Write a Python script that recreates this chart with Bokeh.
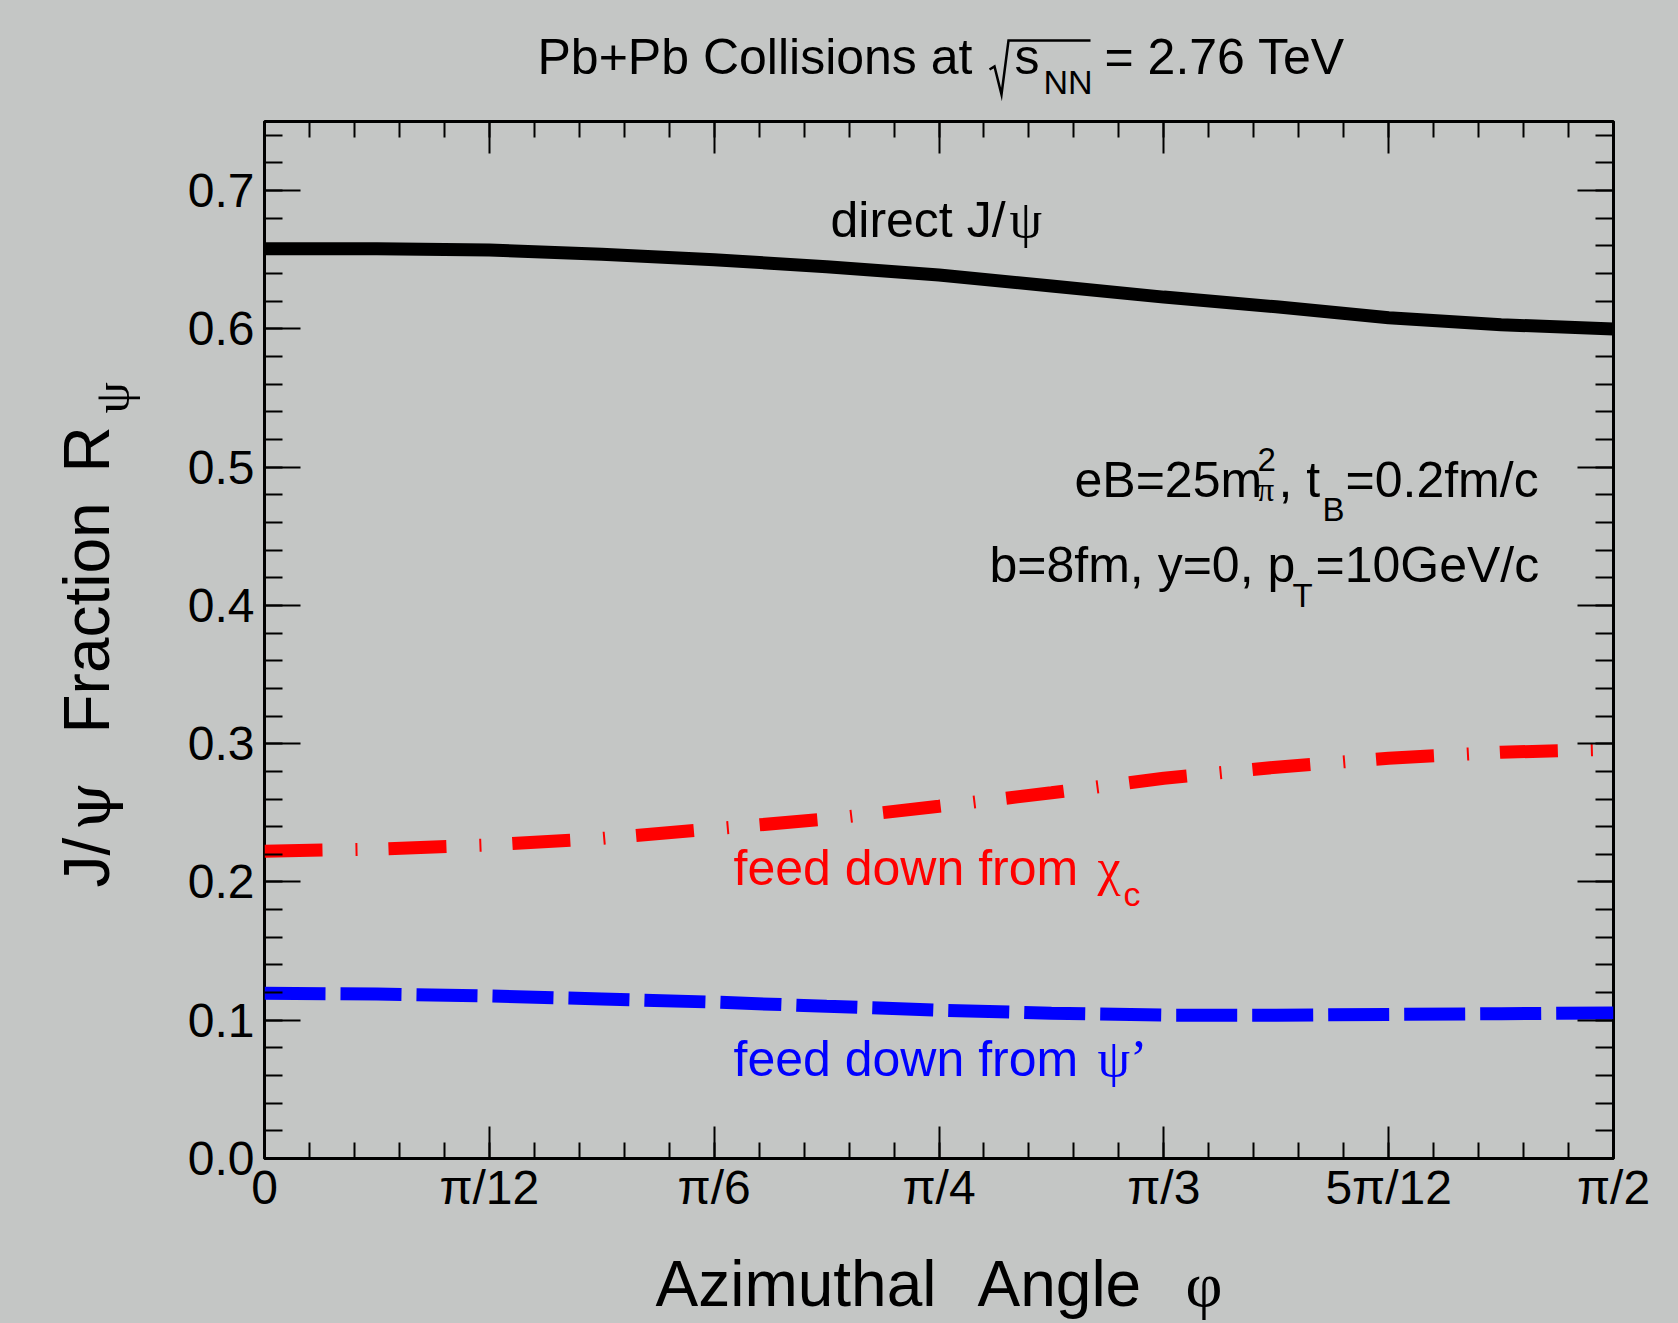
import math
from bokeh.plotting import figure
from bokeh.layouts import column, row
from bokeh.core.properties import value
from bokeh.models import (FixedTicker, PrintfTickFormatter, LinearAxis,
                          Range1d, ColumnDataSource)
from bokeh.embed import file_html
from bokeh.resources import INLINE

PI = math.pi

# ---------------- data ----------------
phi = [k * PI / 24 for k in range(13)]          # azimuthal angle, 0 .. pi/2
direct_jpsi = [0.658, 0.658, 0.657, 0.654, 0.650, 0.645, 0.639,
               0.631, 0.623, 0.616, 0.608, 0.603, 0.600]
feed_chic = [0.2223, 0.2238, 0.2268, 0.2315, 0.2385, 0.2455, 0.2548,
             0.2645, 0.2750, 0.2830, 0.2895, 0.2938, 0.2960]
feed_psip = [0.1195, 0.1189, 0.1175, 0.1154, 0.1131, 0.1101, 0.1073,
             0.1051, 0.1037, 0.1036, 0.1042, 0.1047, 0.1053]

x_ticks = [k * PI / 12 for k in range(7)]
x_tick_labels = ["0", "π/12", "π/6", "π/4", "π/3", "5π/12", "π/2"]
x_minor = [k * PI / 60 for k in range(31)]
y_ticks = [round(0.1 * k, 1) for k in range(8)]
y_minor = [round(0.02 * k, 2) for k in range(38)]

XMAX, YMAX = PI / 2, 0.75
BG = "#c4c6c5"
SANS = "Liberation Sans"
SERIF = "Liberation Serif"

# page geometry (pixels)
PAGE_W, PAGE_H = 1678, 1323
TOP_H, BOT_H, LEFT_W = 110, 95, 150
MID_H = PAGE_H - TOP_H - BOT_H
FL, FR, FT, FB = 264, 1613, 121, 1158        # plot frame in page pixels
BORDER_T = FT - TOP_H
BORDER_B = TOP_H + MID_H - FB

p = figure(width=PAGE_W - LEFT_W, height=MID_H, title=None, toolbar_location=None,
           output_backend="svg", x_range=Range1d(0, XMAX), y_range=Range1d(0, YMAX),
           min_border_left=FL - LEFT_W, min_border_right=PAGE_W - FR,
           min_border_top=BORDER_T, min_border_bottom=BORDER_B,
           x_axis_type=None, y_axis_type=None, styles={"background-color": BG})
p.background_fill_color = BG
p.border_fill_color = BG
p.outline_line_color = "black"
p.outline_line_width = 3


def ticks_style(ax, major, minor):
    ax.axis_line_color = None
    ax.major_tick_in = major
    ax.major_tick_out = 0
    ax.minor_tick_in = minor
    ax.minor_tick_out = 0
    ax.major_tick_line_width = 2
    ax.minor_tick_line_width = 2
    ax.major_tick_line_color = "black"
    ax.minor_tick_line_color = "black"
    ax.major_label_standoff = 0


# bottom and left axes with labels
xb = LinearAxis(ticker=FixedTicker(ticks=x_ticks, minor_ticks=x_minor))
xb.major_label_overrides = {v: s for v, s in zip(x_ticks, x_tick_labels)}
ticks_style(xb, 32, 16)
xb.major_label_text_font = SANS
xb.major_label_text_font_size = "48px"
xb.major_label_text_color = "black"
xb.major_label_standoff = 2
p.add_layout(xb, "below")

yl = LinearAxis(ticker=FixedTicker(ticks=y_ticks, minor_ticks=y_minor),
                formatter=PrintfTickFormatter(format="%.1f"))
ticks_style(yl, 36, 18)
yl.major_label_text_font = SANS
yl.major_label_text_font_size = "48px"
yl.major_label_text_color = "black"
yl.major_label_standoff = 10
p.add_layout(yl, "left")

# mirrored tick marks on top and right (no labels: no major ticks there)
for side, major, minor, big, small in (("above", x_ticks, x_minor, 32, 16),
                                        ("right", y_ticks, y_minor, 36, 18)):
    a_big = LinearAxis(ticker=FixedTicker(ticks=[], minor_ticks=major))
    ticks_style(a_big, 0, big)
    p.add_layout(a_big, side)
    a_small = LinearAxis(ticker=FixedTicker(ticks=[], minor_ticks=minor))
    ticks_style(a_small, 0, small)
    p.add_layout(a_small, side)

src = ColumnDataSource(dict(phi=phi, direct=direct_jpsi, chic=feed_chic, psip=feed_psip))
p.line("phi", "direct", source=src, line_color="black", line_width=13)
p.line("phi", "chic", source=src, line_color="#ff0000", line_width=13,
       line_dash="58 33 2 31")
p.line("phi", "psip", source=src, line_color="#0000ff", line_width=13,
       line_dash="61 15")


# ---------------- helper strips for the texts outside the frame ----------------
# their data coordinates are page pixels: x = px, y = -py
def strip(w, h, y_top, y_bot, bt=0, bb=0):
    f = figure(width=w, height=h, title=None, toolbar_location=None,
               output_backend="svg", x_range=Range1d(0, w),
               y_range=Range1d(-y_bot, -y_top), min_border_left=0,
               min_border_right=0, min_border_top=bt, min_border_bottom=bb,
               x_axis_type=None, y_axis_type=None, styles={"background-color": BG})
    f.background_fill_color = BG
    f.border_fill_color = BG
    f.outline_line_color = None
    return f


top = strip(PAGE_W, TOP_H, 0, TOP_H)
left = strip(LEFT_W, MID_H, FT, FB, BORDER_T, BORDER_B)
bottom = strip(PAGE_W, BOT_H, PAGE_H - BOT_H, PAGE_H)


def shift(size):
    # measured offset between the requested and the drawn baseline
    return 0.33 * size + 2.0


def put(fig, s, x, y, size, color="black", font=SANS, angle=0.0):
    fig.text(x=[x], y=[y], text=[s], text_font=value(font),
             text_font_size=value(f"{size}px"), text_color=color,
             text_align="left", text_baseline="alphabetic", angle=angle)


def t_page(fig, s, px, py, size, angle=0.0, **kw):
    d = shift(size)
    px2 = px - d * math.sin(angle)
    py2 = py - d * math.cos(angle)
    put(fig, s, px2, -py2, size, angle=angle, **kw)


def t_main(s, px, py, size, **kw):
    py2 = py - shift(size)
    put(p, s, (px - FL) / (FR - FL) * XMAX, (FB - py2) / (FB - FT) * YMAX, size, **kw)


# title
t_page(top, "Pb+Pb Collisions at", 537, 75, 50)
t_page(top, "s", 1014, 75, 50)
t_page(top, "NN", 1043, 95, 34)
t_page(top, "= 2.76 TeV", 1104, 75, 50)
# radical sign of the square root
top.line(x=[989, 994, 1001, 1008, 1090], y=[-69, -66, -94, -40, -40],
         line_width=2.5, line_color="black", line_join="miter")

# axis titles
t_page(bottom, "Azimuthal", 655, 1307, 64)
t_page(bottom, "Angle", 977, 1307, 64)
t_page(bottom, "φ", 1185, 1307, 64, font=SERIF)
t_page(left, "J/", 110, 887, 64, angle=PI / 2)
t_page(left, "ψ", 110, 830, 62, font="DejaVu Serif", angle=PI / 2)
t_page(left, "Fraction", 110, 733, 64, angle=PI / 2)
t_page(left, "R", 110, 472, 64, angle=PI / 2)
t_page(left, "ψ", 130, 413, 50, font=SERIF, angle=PI / 2)

# curve labels
t_main("direct J/", 830, 238, 50)
t_main("ψ", 1009, 238, 52, font=SERIF)
t_main("feed down from ", 733, 886, 50, color="#ff0000")
t_main("χ", 1097, 886, 52, color="#ff0000", font=SERIF)
t_main("c", 1123, 907, 34, color="#ff0000")
t_main("feed down from ", 733, 1077, 50, color="#0000ff")
t_main("ψ’", 1097, 1077, 52, color="#0000ff", font=SERIF)

# parameters
t_main("eB=25m", 1074, 498, 50)
t_main("2", 1257, 472, 33)
t_main("π", 1257, 502, 33, font=SERIF)
t_main(", t", 1278, 498, 50)
t_main("B", 1322, 522, 33)
t_main("=0.2fm/c", 1345, 498, 50)
t_main("b=8fm, y=0, p", 989, 583, 50)
t_main("T", 1292, 608, 33)
t_main("=10GeV/c", 1315, 583, 50)

layout = column(top, row(left, p, spacing=0, styles={"background-color": BG}),
                bottom, spacing=0, styles={"background-color": BG})
open("out.html", "w").write(file_html(layout, INLINE))
